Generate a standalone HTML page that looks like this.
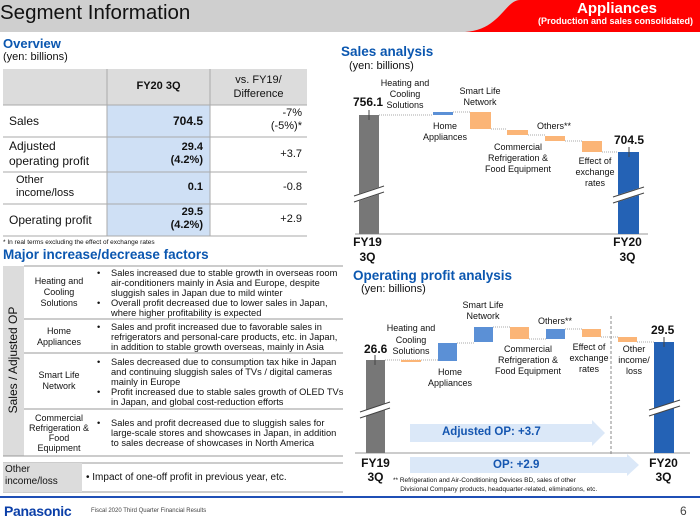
<!DOCTYPE html>
<html><head><meta charset="utf-8"><style>
*{margin:0;padding:0;box-sizing:border-box}
body{width:700px;height:523px;overflow:hidden;background:#fff;font-family:"Liberation Sans",Arial,sans-serif;color:#111;position:relative}
.a{position:absolute}
.c{text-align:center}
.r{text-align:right}
.b{font-weight:bold}
.ttl{color:#0b57b0;font-weight:bold}
.f{font-size:9.3px;line-height:10px;width:248px}
</style></head><body>
<div class="a" style="left:0;top:0;width:700px;height:32px;background:#cfcfcf"></div>
<svg class="a" style="left:0;top:0" width="700" height="34"><path d="M465 32 C500 30 505 0 520 0 L700 0 L700 32 Z" fill="#f00"/></svg>
<div class="a" style="left:0;top:0;font-size:20.5px;line-height:26px;color:#111">Segment Information</div>
<div class="a b" style="left:577px;top:0;font-size:15px;color:#fff">Appliances</div>
<div class="a b" style="left:538px;top:16px;font-size:9px;color:#fff">(Production and sales consolidated)</div>

<!-- Overview -->
<div class="a ttl" style="left:3px;top:36px;font-size:13px">Overview</div>
<div class="a" style="left:3px;top:51px;font-size:11px">(yen: billions)</div>
<div class="a" style="left:3px;top:69px;width:304px;height:36px;background:#dcdcdc"></div>
<div class="a" style="left:107px;top:105px;width:103px;height:131px;background:#cfe0f5"></div>
<svg class="a" style="left:0;top:0" width="340" height="240">
<g stroke="#aaa" stroke-width="1"><line x1="3" y1="105" x2="307" y2="105"/><line x1="3" y1="137" x2="307" y2="137"/><line x1="3" y1="172" x2="307" y2="172"/><line x1="3" y1="204" x2="307" y2="204"/><line x1="3" y1="236" x2="307" y2="236"/><line x1="107" y1="69" x2="107" y2="236"/><line x1="210" y1="69" x2="210" y2="236"/></g></svg>
<div class="a b c" style="left:107px;top:80px;width:103px;font-size:11px">FY20 3Q</div>
<div class="a c" style="left:210px;top:73px;width:97px;font-size:11px;line-height:14px">vs. FY19/<br>Difference</div>
<div class="a" style="left:9px;top:114px;font-size:12px">Sales</div>
<div class="a b r" style="left:107px;top:114px;width:96px;font-size:12px">704.5</div>
<div class="a r" style="left:210px;top:107px;width:92px;font-size:11px;line-height:13px">-7%<br>(-5%)*</div>
<div class="a" style="left:9px;top:139px;font-size:12px;line-height:15px">Adjusted<br>operating profit</div>
<div class="a b r" style="left:107px;top:141px;width:96px;font-size:11px;line-height:13px">29.4<br>(4.2%)</div>
<div class="a r" style="left:210px;top:148px;width:92px;font-size:11px">+3.7</div>
<div class="a" style="left:16px;top:174px;font-size:11px;line-height:13px">Other<br>income/loss</div>
<div class="a b r" style="left:107px;top:181px;width:96px;font-size:11px">0.1</div>
<div class="a r" style="left:210px;top:181px;width:92px;font-size:11px">-0.8</div>
<div class="a" style="left:9px;top:213px;font-size:12px">Operating profit</div>
<div class="a b r" style="left:107px;top:206px;width:96px;font-size:11px;line-height:13px">29.5<br>(4.2%)</div>
<div class="a r" style="left:210px;top:213px;width:92px;font-size:11px">+2.9</div>
<div class="a" style="left:3px;top:239px;font-size:6.5px">* In real terms excluding the effect of exchange rates</div>

<!-- Factors -->
<div class="a ttl" style="left:3px;top:247px;font-size:13.5px">Major increase/decrease factors</div>
<div class="a" style="left:3px;top:266px;width:21px;height:190px;background:#dcdcdc"></div>
<div class="a" style="left:3px;top:266px;width:21px;height:190px;"><div style="position:absolute;left:-85px;top:87px;width:190px;text-align:center;transform:rotate(-90deg);font-size:12px">Sales / Adjusted OP</div></div>
<svg class="a" style="left:0;top:0" width="345" height="500"><g stroke="#999"><line x1="24" y1="266" x2="343" y2="266"/><line x1="24" y1="319" x2="343" y2="319"/><line x1="24" y1="353" x2="343" y2="353"/><line x1="24" y1="409" x2="343" y2="409"/><line x1="3" y1="456" x2="343" y2="456"/><line x1="3" y1="463" x2="343" y2="463"/><line x1="3" y1="492" x2="343" y2="492"/></g></svg>
<div class="a c" style="left:24px;top:276px;width:70px;font-size:9px;line-height:11px">Heating and<br>Cooling<br>Solutions</div>
<div class="a c" style="left:24px;top:326px;width:70px;font-size:9px;line-height:11px">Home<br>Appliances</div>
<div class="a c" style="left:24px;top:370px;width:70px;font-size:9px;line-height:11px">Smart Life<br>Network</div>
<div class="a c" style="left:24px;top:413px;width:70px;font-size:9px;line-height:10px">Commercial<br>Refrigeration &amp;<br>Food<br>Equipment</div>
<div class="a f" style="left:97px;top:268px">
<div style="position:absolute;left:0;top:0">•</div><div style="padding-left:14px">Sales increased due to stable growth in overseas room air-conditioners mainly in Asia and Europe, despite sluggish sales in Japan due to mild winter</div>
<div style="position:absolute;left:0;top:30px">•</div><div style="padding-left:14px">Overall profit decreased due to lower sales in Japan, where higher profitability is expected</div></div>
<div class="a f" style="left:97px;top:322px"><div style="position:absolute;left:0;top:0">•</div><div style="padding-left:14px">Sales and profit increased due to favorable sales in refrigerators and personal-care products, etc. in Japan, in addition to stable growth overseas, mainly in Asia</div></div>
<div class="a f" style="left:97px;top:357px">
<div style="position:absolute;left:0;top:0">•</div><div style="padding-left:14px">Sales decreased due to consumption tax hike in Japan and continuing sluggish sales of TVs / digital cameras mainly in Europe</div>
<div style="position:absolute;left:0;top:30px">•</div><div style="padding-left:14px">Profit increased due to stable sales growth of OLED TVs in Japan, and global cost-reduction efforts</div></div>
<div class="a f" style="left:97px;top:418px"><div style="position:absolute;left:0;top:0">•</div><div style="padding-left:14px">Sales and profit decreased due to sluggish sales for large-scale stores and showcases in Japan, in addition to sales decrease of showcases in North America</div></div>
<div class="a" style="left:3px;top:463px;width:79px;height:29px;background:#dcdcdc"></div>
<div class="a" style="left:5px;top:464px;font-size:10px;line-height:12px">Other<br>income/loss</div>
<div class="a" style="left:86px;top:472px;font-size:10px">• Impact of one-off profit in previous year, etc.</div>

<!-- Sales analysis -->
<div class="a ttl" style="left:341px;top:44px;font-size:13.5px">Sales analysis</div>
<div class="a" style="left:349px;top:60px;font-size:11px">(yen: billions)</div>
<svg class="a" style="left:340px;top:60px" width="360" height="200">
<line x1="15" y1="174" x2="308" y2="174" stroke="#999"/>
<rect x="19" y="55" width="20" height="119" fill="#777"/>
<rect x="278" y="92" width="21" height="82" fill="#2462b5"/>
<g transform="translate(-340,-60)">
<g stroke="#aaa" stroke-dasharray="1,1"><line x1="379" y1="115" x2="433" y2="115"/><line x1="453" y1="112" x2="470" y2="112"/><line x1="491" y1="129" x2="507" y2="129"/><line x1="528" y1="135" x2="545" y2="135"/><line x1="565" y1="141" x2="582" y2="141"/><line x1="602" y1="152" x2="618" y2="152"/></g>
<rect x="433" y="112" width="20" height="3" fill="#5b90d6"/>
<rect x="470" y="112" width="21" height="17" fill="#fbb577"/>
<rect x="507" y="130" width="21" height="5" fill="#fbb577"/>
<rect x="545" y="136" width="20" height="5" fill="#fbb577"/>
<rect x="582" y="141" width="20" height="11" fill="#fbb577"/>
</g>
<g fill="#fff" stroke="#fff"><polygon points="14,136 44,126 44,132 14,142"/><polygon points="273,137 304,127 304,133 273,143"/></g>
<g stroke="#444"><line x1="14" y1="136" x2="44" y2="126"/><line x1="14" y1="142" x2="44" y2="132"/><line x1="273" y1="137" x2="304" y2="127"/><line x1="273" y1="143" x2="304" y2="133"/><line x1="29" y1="50" x2="29" y2="60"/><line x1="289" y1="87" x2="289" y2="97"/></g>
</svg>
<div class="a b" style="left:353px;top:95px;font-size:12px">756.1</div>
<div class="a b" style="left:614px;top:133px;font-size:12px">704.5</div>
<div class="a c" style="left:375px;top:78px;width:60px;font-size:9px;line-height:11px">Heating and<br>Cooling<br>Solutions</div>
<div class="a c" style="left:450px;top:86px;width:60px;font-size:9px;line-height:11px">Smart Life<br>Network</div>
<div class="a c" style="left:415px;top:121px;width:60px;font-size:9px;line-height:11px">Home<br>Appliances</div>
<div class="a" style="left:537px;top:121px;font-size:9px">Others**</div>
<div class="a c" style="left:478px;top:142px;width:80px;font-size:9px;line-height:11px">Commercial<br>Refrigeration &amp;<br>Food Equipment</div>
<div class="a c" style="left:565px;top:156px;width:60px;font-size:9px;line-height:11px">Effect of<br>exchange<br>rates</div>
<div class="a b c" style="left:350px;top:235px;width:35px;font-size:12px;line-height:15px">FY19<br>3Q</div>
<div class="a b c" style="left:610px;top:235px;width:35px;font-size:12px;line-height:15px">FY20<br>3Q</div>

<!-- OP analysis -->
<div class="a ttl" style="left:353px;top:268px;font-size:13.5px">Operating profit analysis</div>
<div class="a" style="left:361px;top:283px;font-size:11px">(yen: billions)</div>
<svg class="a" style="left:0;top:0" width="700" height="500">
<line x1="355" y1="453" x2="690" y2="453" stroke="#999"/>
<rect x="366" y="360" width="19" height="93" fill="#777"/>
<rect x="654" y="342" width="20" height="111" fill="#2462b5"/>
<g stroke="#aaa" stroke-dasharray="1,1"><line x1="385" y1="360" x2="438" y2="360"/><line x1="457" y1="343" x2="474" y2="343"/><line x1="493" y1="327" x2="510" y2="327"/><line x1="529" y1="339" x2="546" y2="339"/><line x1="565" y1="329" x2="582" y2="329"/><line x1="601" y1="337" x2="618" y2="337"/><line x1="637" y1="342" x2="654" y2="342"/></g>
<line x1="611" y1="316" x2="611" y2="456" stroke="#888" stroke-dasharray="3,2"/>
<rect x="401" y="360" width="20" height="2" fill="#fbb577"/>
<rect x="438" y="343" width="19" height="18" fill="#5b90d6"/>
<rect x="474" y="327" width="19" height="15" fill="#5b90d6"/>
<rect x="510" y="327" width="19" height="12" fill="#fbb577"/>
<rect x="546" y="329" width="19" height="10" fill="#5b90d6"/>
<rect x="582" y="329" width="19" height="8" fill="#fbb577"/>
<rect x="618" y="337" width="19" height="5" fill="#fbb577"/>
<g fill="#fff"><polygon points="360,412 390,402 390,408 360,418"/><polygon points="649,410 680,400 680,406 649,416"/></g>
<g stroke="#444"><line x1="360" y1="412" x2="390" y2="402"/><line x1="360" y1="418" x2="390" y2="408"/><line x1="649" y1="410" x2="680" y2="400"/><line x1="649" y1="416" x2="680" y2="406"/><line x1="375" y1="355" x2="375" y2="365"/><line x1="664" y1="337" x2="664" y2="347"/></g>
<polygon points="410,424 592,424 592,420 605,433 592,446 592,442 410,442" fill="#dbe8f8"/>
<polygon points="410,457 627,457 627,454 639,465 627,476 627,473 410,473" fill="#dbe8f8"/>
<line x1="0" y1="497" x2="700" y2="497" stroke="#1f4fb5" stroke-width="2"/>
</svg>
<div class="a b" style="left:364px;top:342px;font-size:12px">26.6</div>
<div class="a b" style="left:651px;top:323px;font-size:12px">29.5</div>
<div class="a c" style="left:380px;top:323px;width:62px;font-size:9px;line-height:11.5px">Heating and<br>Cooling<br>Solutions</div>
<div class="a c" style="left:453px;top:300px;width:60px;font-size:9px;line-height:11px">Smart Life<br>Network</div>
<div class="a c" style="left:420px;top:367px;width:60px;font-size:9px;line-height:11px">Home<br>Appliances</div>
<div class="a" style="left:538px;top:316px;font-size:9px">Others**</div>
<div class="a c" style="left:488px;top:344px;width:80px;font-size:9px;line-height:11px">Commercial<br>Refrigeration &amp;<br>Food Equipment</div>
<div class="a c" style="left:564px;top:342px;width:50px;font-size:9px;line-height:11px">Effect of<br>exchange<br>rates</div>
<div class="a c" style="left:612px;top:344px;width:44px;font-size:9px;line-height:11px">Other<br>income/<br>loss</div>
<div class="a b" style="left:442px;top:426px;font-size:11.5px;color:#1556b0">Adjusted OP: +3.7</div>
<div class="a b" style="left:493px;top:459px;font-size:11.5px;color:#1556b0">OP: +2.9</div>
<div class="a b c" style="left:358px;top:456px;width:35px;font-size:12px;line-height:14px">FY19<br>3Q</div>
<div class="a b c" style="left:646px;top:456px;width:35px;font-size:12px;line-height:14px">FY20<br>3Q</div>
<div class="a" style="left:393px;top:476px;font-size:6.5px;line-height:9px">** Refrigeration and Air-Conditioning Devices BD, sales of other<br>&nbsp;&nbsp;&nbsp;&nbsp;Divisional Company products, headquarter-related, eliminations, etc.</div>

<!-- footer -->
<div class="a b" style="left:4px;top:503px;font-size:14px;color:#0b3fa8;letter-spacing:-0.3px">Panasonic</div>
<div class="a" style="left:91px;top:508px;font-size:6px;color:#444">Fiscal 2020 Third Quarter Financial Results</div>
<div class="a" style="left:680px;top:504px;font-size:12px;color:#444">6</div>
</body></html>
